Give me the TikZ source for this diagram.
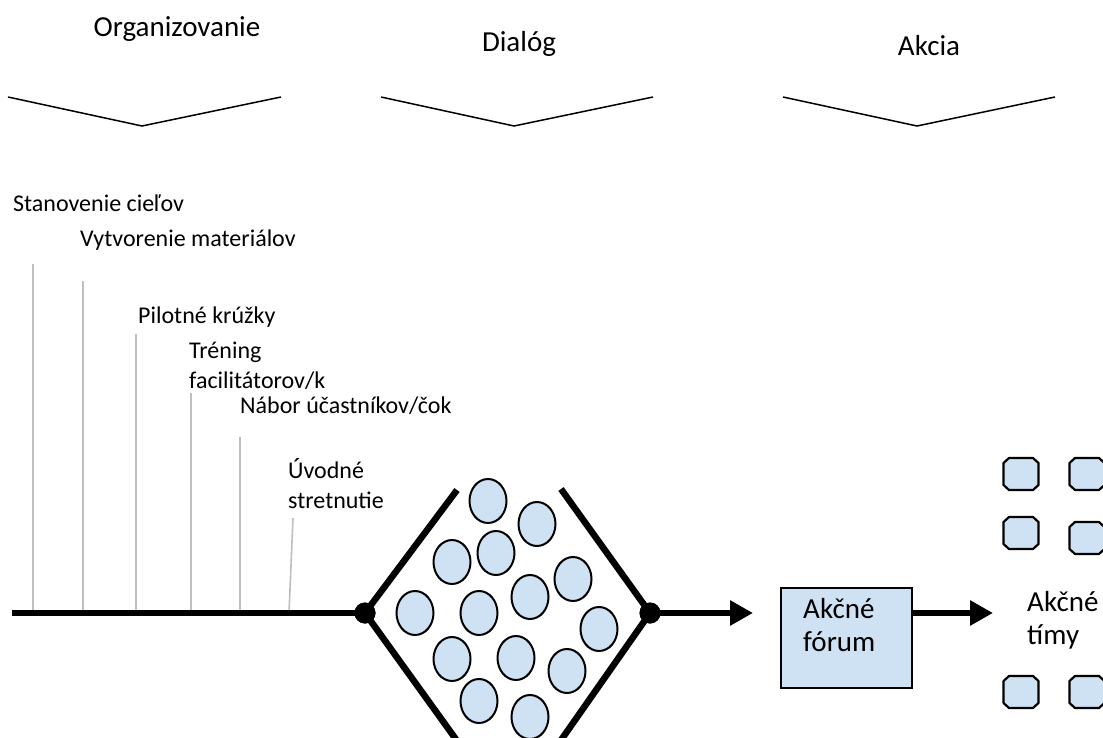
\documentclass[tikz,border=0pt]{standalone}
\usepackage{fontspec}
\setmainfont{Carlito}
\usetikzlibrary{arrows.meta,shapes.geometric}
\definecolor{cfill}{RGB}{207,226,243}
\definecolor{tickc}{RGB}{190,190,190}
\begin{document}
\begin{tikzpicture}[x=1pt,y=-1pt,
  title/.style={anchor=base,font=\fontsize{29}{35}\selectfont,inner sep=0},
  lab/.style={anchor=base west,font=\fontsize{24}{29}\selectfont,inner sep=0},
  boxtext/.style={anchor=base west,font=\fontsize{29}{35}\selectfont,inner sep=0},
  chev/.style={line width=1.5pt},
  tickline/.style={draw=tickc,line width=1.6pt},
  mainline/.style={line width=6pt},
  dline/.style={line width=6.5pt},
  dot/.style={circle,fill=black,minimum size=21pt,inner sep=0},
  bubble/.style={ellipse,draw,fill=cfill,line width=2pt,minimum width=37pt,minimum height=44pt,inner sep=0},
  arr/.style={line width=6pt,-{Triangle[length=23pt,width=24pt]}},
  octline/.style={draw,fill=cfill,line width=2.2pt,line join=round},
  forumbox/.style={draw,fill=cfill,line width=1.5pt,minimum width=131pt,minimum height=100pt,inner sep=0}
]
\useasboundingbox (0,0) rectangle (1103,738);
\clip (0,0) rectangle (1103,738);

% titles
\node[title] (t1) at (177,37) {Organizovanie};
\node[title] (t2) at (519,52) {Dialóg};
\node[title] (t3) at (929,56) {Akcia};

% chevrons
\draw[chev] (8,97) -- (142,126) -- (281,97);
\draw[chev] (381,97) -- (514,126) -- (653,97);
\draw[chev] (783,97) -- (917,126) -- (1055,97);

% tick lines
\coordinate (k1t) at (33,264);  \coordinate (k1b) at (33,613);
\coordinate (k2t) at (83,281);  \coordinate (k2b) at (83,613);
\coordinate (k3t) at (136,334); \coordinate (k3b) at (136,613);
\coordinate (k4t) at (191,393); \coordinate (k4b) at (191,613);
\coordinate (k5t) at (240,437); \coordinate (k5b) at (240,613);
\coordinate (k6t) at (293,518); \coordinate (k6b) at (289,613);
\foreach \i in {1,...,6} {\draw[tickline] (k\i t) -- (k\i b);}

% labels
\node[lab] (l1) at (13,212) {Stanovenie cieľov};
\node[lab] (l2) at (80,247) {Vytvorenie materiálov};
\node[lab] (l3) at (138,323) {Pilotné krúžky};
\node[lab] (l4a) at (189,358) {Tréning};
\node[lab] (l4b) at (189,388) {facilitátorov/k};
\node[lab] (l5) at (240,413) {Nábor účastníkov/čok};
\node[lab] (l6a) at (288,478) {Úvodné};
\node[lab] (l6b) at (288,508) {stretnutie};

% main line and diamond
\coordinate (ms) at (12,613);
\node[dot] (dl) at (365,613) {};
\node[dot] (dr) at (650,613) {};
\coordinate (ul) at (457,490);
\coordinate (ll) at (473,763);
\coordinate (ur) at (561,489);
\coordinate (lr) at (545,763);
\draw[mainline] (ms) -- (dl.center);
\draw[dline] (dl.center) -- (ul);
\draw[dline] (dl.center) -- (ll);
\draw[dline] (dr.center) -- (ur);
\draw[dline] (dr.center) -- (lr);
\node[dot] at (dl) {};
\node[dot] at (dr) {};

% bubbles
\node[bubble] (c1) at (488,501) {};
\node[bubble] (c2) at (537,524) {};
\node[bubble] (c3) at (452,562) {};
\node[bubble] (c4) at (496,553) {};
\node[bubble] (c5) at (573,579) {};
\node[bubble] (c6) at (530,597) {};
\node[bubble] (c7) at (415,613) {};
\node[bubble] (c8) at (479,613) {};
\node[bubble] (c9) at (599,629) {};
\node[bubble] (c10) at (452,659) {};
\node[bubble] (c11) at (516,658) {};
\node[bubble] (c12) at (567,671) {};
\node[bubble] (c13) at (479,701) {};
\node[bubble] (c14) at (530,717) {};

% arrow to forum
\coordinate (tipA) at (753,613);
\draw[arr] (dr.center) -- (tipA);

% forum box
\node[forumbox] (forum) at (846.5,638) {};
\node[boxtext] (f1) at (803,618) {Akčné};
\node[boxtext] (f2) at (803,651) {fórum};

% arrow to teams
\coordinate (tipB) at (993,613);
\draw[arr] (forum.east |- dr) -- (tipB);

% teams
\node[boxtext] (g1) at (1027,611) {Akčné};
\node[boxtext] (g2) at (1027,644) {tímy};
\coordinate (o1) at (1021,474);
\coordinate (o2) at (1087,474);
\coordinate (o3) at (1021,533);
\coordinate (o4) at (1087,538);
\coordinate (o5) at (1021,692);
\coordinate (o6) at (1087,692);
\foreach \n in {o1,o2,o3,o4,o5,o6} {
  \draw[octline] (\n) ++(-12,-16) -- ++(24,0) -- ++(5.5,5) -- ++(0,22) -- ++(-5.5,5)
    -- ++(-24,0) -- ++(-5.5,-5) -- ++(0,-22) -- cycle;
}
\end{tikzpicture}
\end{document}
